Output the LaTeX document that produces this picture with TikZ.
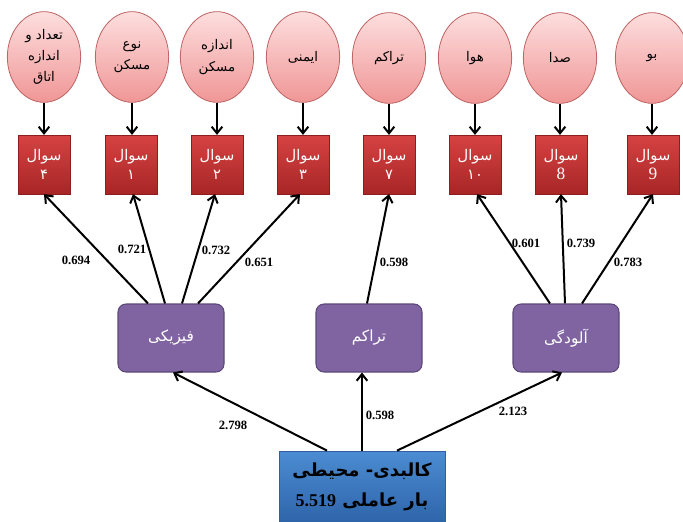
\documentclass[tikz,border=0pt]{standalone}
\usepackage{fontspec}
\setmainfont{Liberation Serif}
\newfontfamily\fa[Script=Arabic]{DejaVu Sans}
\TeXXeTstate=1
\usetikzlibrary{shapes.geometric,arrows.meta,calc}
\newcommand{\prs}[1]{{\fa\beginR #1\endR}}
\definecolor{ellTop}{RGB}{253,222,222}
\definecolor{ellBot}{RGB}{240,150,150}
\definecolor{ellLine}{RGB}{190,100,100}
\definecolor{redTop}{RGB}{214,66,66}
\definecolor{redBot}{RGB}{168,38,38}
\definecolor{redLine}{RGB}{140,30,30}
\definecolor{purFill}{RGB}{128,100,162}
\definecolor{purLine}{RGB}{92,72,120}
\definecolor{bluTop}{RGB}{76,140,210}
\definecolor{bluBot}{RGB}{46,100,170}
\definecolor{bluLine}{RGB}{50,95,160}
\tikzset{
  itemell/.style={ellipse, draw=ellLine, line width=0.6pt, top color=ellTop, bottom color=ellBot,
    minimum width=55pt, minimum height=68pt, inner sep=0pt, align=center, font=\fontsize{10}{16}\selectfont},
  qbox/.style={rectangle, draw=redLine, line width=0.4pt, top color=redTop, bottom color=redBot,
    minimum width=39pt, minimum height=44pt, inner sep=0pt, align=center, text=white, font=\fontsize{11}{14}\selectfont},
  facbox/.style={rectangle, rounded corners=6pt, draw=purLine, line width=0.8pt, fill=purFill,
    minimum width=79.5pt, minimum height=51pt, text=white, font=\fontsize{11.5}{14}\selectfont},
  mainbox/.style={rectangle, draw=bluLine, line width=0.6pt, top color=bluTop, bottom color=bluBot,
    minimum width=124.5pt, minimum height=54pt, align=center, font=\fontsize{13.5}{22}\selectfont\bfseries},
  conn/.style={line width=1.5pt, -{Straight Barb[length=5pt,width=8pt,line width=1.5pt]}},
  val/.style={font=\fontsize{9.5}{11}\selectfont\bfseries, inner sep=1pt}
}
\begin{document}
\begin{tikzpicture}[x=0.75pt,y=-0.75pt]
\useasboundingbox (0,0) rectangle (683,522);
% ellipses
\node[itemell] (e1) at (44,57) {\prs{تعداد و}\\\prs{اندازه}\\\prs{اتاق}};
\node[itemell] (e2) at (132,57) {\prs{نوع}\\\prs{مسکن}};
\node[itemell] (e3) at (217,57) {\prs{اندازه}\\\prs{مسکن}};
\node[itemell] (e4) at (303,57) {\prs{ایمنی}};
\node[itemell] (e5) at (389,58) {\prs{تراکم}};
\node[itemell] (e6) at (475,58) {\prs{هوا}};
\node[itemell] (e7) at (560,58) {\prs{صدا}};
\node[itemell] (e8) at (652,58) {\prs{بو}};
% question boxes
\node[qbox] (r1) at (44,164.5) {\prs{سوال}\\{\fa ۴}};
\node[qbox] (r2) at (131,164.5) {\prs{سوال}\\{\fa ۱}};
\node[qbox] (r3) at (217,164.5) {\prs{سوال}\\{\fa ۲}};
\node[qbox] (r4) at (303,164.5) {\prs{سوال}\\{\fa ۳}};
\node[qbox] (r5) at (389,164.5) {\prs{سوال}\\{\fa ۷}};
\node[qbox] (r6) at (475,164.5) {\prs{سوال}\\{\fa ۱۰}};
\node[qbox] (r7) at (561,164.5) {\prs{سوال}\\{\fontsize{13}{14}\selectfont 8}};
\node[qbox] (r8) at (653,164.5) {\prs{سوال}\\{\fontsize{13}{14}\selectfont 9}};
% factor boxes
\node[facbox] (p1) at (171,338) {\prs{فیزیکی}};
\node[facbox] (p2) at (369,338) {\prs{تراکم}};
\node[facbox] (p3) at (566,338) {\prs{آلودگی}};
% main box
\node[mainbox] (b) at (362,487) {\prs{کالبدی- محیطی}\\{\fa\beginR بار عاملی \beginL{\rmfamily\bfseries 5.519}\endL\endR}};
% ellipse -> question
\foreach \i in {1,...,8} {
  \draw[conn] (e\i.south) -- (e\i.south |- r\i.north);
}
% factor -> question
\draw[conn] ($(p1.north)+(-23,0)$) -- (r1.south);
\draw[conn] ($(p1.north)+(-6,0)$) -- ($(r2.south)+(2,0)$);
\draw[conn] ($(p1.north)+(11,0)$) -- ($(r3.south)+(-2,0)$);
\draw[conn] ($(p1.north)+(27,0)$) -- ($(r4.south)+(-3,0)$);
\draw[conn] ($(p2.north)+(-2,0)$) -- (r5.south);
\draw[conn] ($(p3.north)+(-16,0)$) -- ($(r6.south)+(2,0)$);
\draw[conn] ($(p3.north)+(-1,0)$) -- (r7.south);
\draw[conn] ($(p3.north)+(16,0)$) -- (r8.south);
% main -> factor
\draw[conn] ($(b.north)+(-35,0)$) -- ($(p1.south)+(2,0)$);
\draw[conn] (b.north) -- (b.north |- p2.south);
\draw[conn] ($(b.north)+(35,0)$) -- ($(p3.south)+(-4,0)$);
% values
\node[val] (v1) at (76,260) {0.694};
\node[val] (v2) at (132,249) {0.721};
\node[val] (v3) at (216,250) {0.732};
\node[val] (v4) at (259,262) {0.651};
\node[val] (v5) at (394,262) {0.598};
\node[val] (v6) at (526,243) {0.601};
\node[val] (v7) at (581,243) {0.739};
\node[val] (v8) at (628,262) {0.783};
\node[val] (w1) at (233,425) {2.798};
\node[val] (w2) at (380,415) {0.598};
\node[val] (w3) at (513,411) {2.123};
\end{tikzpicture}
\end{document}
